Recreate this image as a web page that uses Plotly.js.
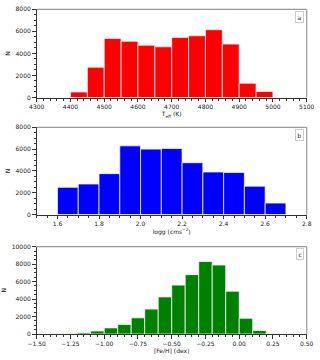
<!DOCTYPE html>
<html>
<head>
<meta charset="utf-8">
<script src="https://cdn.plot.ly/plotly-3.0.1.min.js"></script>
<style>html,body{margin:0;padding:0;background:#fff;}#chart{width:320px;height:360px;}</style>
</head>
<body>
<div id="chart"></div>
<script>
// Panel a: Teff histogram (bin centers, K) and counts
const teffCenters = [4425, 4475, 4525, 4575, 4625, 4675, 4725, 4775, 4825, 4875, 4925, 4975];
const teffCounts  = [500, 2750, 5350, 5100, 4750, 4600, 5450, 5600, 6150, 4850, 1300, 550];
const teffBinWidth = 50;

// Panel b: logg histogram
const loggCenters = [1.65, 1.75, 1.85, 1.95, 2.05, 2.15, 2.25, 2.35, 2.45, 2.55, 2.65];
const loggCounts  = [2500, 2800, 3750, 6300, 6000, 6050, 4750, 3900, 3850, 2600, 1050];
const loggBinWidth = 0.1;

// Panel c: [Fe/H] histogram
const fehCenters = [-1.25, -1.15, -1.05, -0.95, -0.85, -0.75, -0.65, -0.55, -0.45, -0.35, -0.25, -0.15, -0.05, 0.05, 0.15, 0.25];
const fehCounts  = [50, 150, 350, 700, 1100, 1850, 2850, 4250, 5600, 6800, 8300, 7900, 4900, 1800, 400, 40];
const fehBinWidth = 0.1;

const panelLabels = ['a', 'b', 'c'];
const xTitles = ['T<sub>eff</sub> (K)', 'logg (cms<sup>−2</sup>)', '[Fe/H] (dex)'];

const FONT = 'DejaVu Sans, sans-serif';
const edge = {color: 'rgba(255,255,255,0.75)', width: 1};

const traces = [
  {type: 'bar', x: teffCenters, y: teffCounts, width: teffBinWidth, marker: {color: '#ff0000', line: edge}, xaxis: 'x', yaxis: 'y', hoverinfo: 'none'},
  {type: 'bar', x: loggCenters, y: loggCounts, width: loggBinWidth, marker: {color: '#0000ff', line: edge}, xaxis: 'x2', yaxis: 'y2', hoverinfo: 'none'},
  {type: 'bar', x: fehCenters, y: fehCounts, width: fehBinWidth, marker: {color: '#008000', line: edge}, xaxis: 'x3', yaxis: 'y3', hoverinfo: 'none'}
];

const xDom = [36.7/320, 306.7/320];
const yDoms = [
  [1 - 97.5/360, 1 - 9.3/360],
  [1 - 214.5/360, 1 - 127.3/360],
  [1 - 334/360, 1 - 246.7/360]
];

function xax(range, tick0, dtick, minorDtick, title, tickformat, anchor) {
  return {
    domain: xDom, range: range, tick0: tick0, dtick: dtick, anchor: anchor,
    showgrid: false, zeroline: false, showline: true, linecolor: '#333', linewidth: 1.2,
    ticks: 'outside', ticklen: 3.5, tickwidth: 1, tickcolor: '#333',
    minor: {tick0: tick0, dtick: minorDtick, ticks: 'outside', ticklen: 2, tickwidth: 1, tickcolor: '#333', showgrid: false},
    tickfont: {family: FONT, size: 6, color: '#222'}, tickformat: tickformat,
    title: {text: title, font: {family: FONT, size: 6, color: '#222'}, standoff: 2},
    automargin: false, fixedrange: true
  };
}
function yax(range, dtick, minorDtick, anchor, domain) {
  return {
    domain: domain, range: range, tick0: 0, dtick: dtick, anchor: anchor, tickformat: 'd',
    showgrid: false, zeroline: false, showline: true, linecolor: '#333', linewidth: 1.2,
    ticks: 'outside', ticklen: 3.5, tickwidth: 1, tickcolor: '#333',
    minor: {tick0: 0, dtick: minorDtick, ticks: 'outside', ticklen: 2, tickwidth: 1, tickcolor: '#333', showgrid: false},
    tickfont: {family: FONT, size: 6, color: '#222'},
    title: {text: 'N', font: {family: FONT, size: 6, color: '#222'}, standoff: 4},
    automargin: false, fixedrange: true
  };
}

const layout = {
  width: 320, height: 360,
  margin: {l: 0, r: 0, t: 0, b: 0},
  paper_bgcolor: '#fff', plot_bgcolor: '#fff',
  showlegend: false, bargap: 0,
  xaxis:  xax([4300, 5100], 4300, 100, 20, xTitles[0], 'd', 'y'),
  xaxis2: xax([1.5, 2.8], 1.6, 0.2, 0.05, xTitles[1], '.1f', 'y2'),
  xaxis3: xax([-1.5, 0.5], -1.5, 0.25, 0.05, xTitles[2], '.2f', 'y3'),
  yaxis:  yax([0, 8000], 2000, 500, 'x', yDoms[0]),
  yaxis2: yax([0, 8000], 2000, 500, 'x2', yDoms[1]),
  yaxis3: yax([0, 10000], 2000, 500, 'x3', yDoms[2]),
  shapes: [],
  annotations: []
};

const axPairs = [['x', 'y'], ['x2', 'y2'], ['x3', 'y3']];
axPairs.forEach((p, i) => {
  // top and right frame lines (lighter grey)
  layout.shapes.push({type: 'line', xref: p[0] + ' domain', yref: p[1] + ' domain', x0: 0, x1: 1, y0: 1, y1: 1, line: {color: '#999', width: 1.2}});
  layout.shapes.push({type: 'line', xref: p[0] + ' domain', yref: p[1] + ' domain', x0: 1, x1: 1, y0: 0, y1: 1, line: {color: '#999', width: 1.2}});
  layout.annotations.push({
    xref: p[0] + ' domain', yref: p[1] + ' domain', x: 0.975, y: 0.915,
    xanchor: 'center', yanchor: 'middle', showarrow: false,
    text: panelLabels[i], font: {family: FONT, size: 6, color: '#222'},
    bordercolor: '#ccc', borderwidth: 1, borderpad: 1.5, bgcolor: '#fff'
  });
});

Plotly.newPlot('chart', traces, layout, {staticPlot: true, displayModeBar: false});
</script>
</body>
</html>
